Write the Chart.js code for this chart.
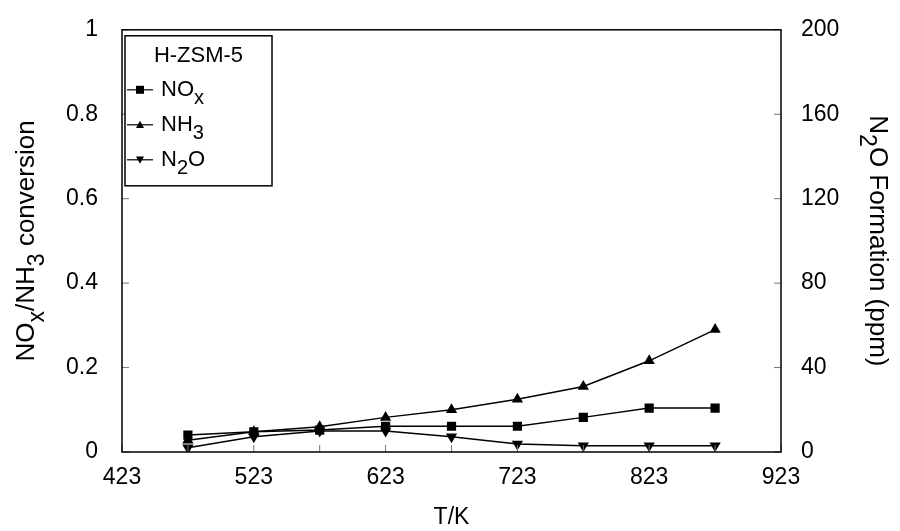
<!DOCTYPE html>
<html>
<head>
<meta charset="utf-8">
<script src="https://cdn.jsdelivr.net/npm/chart.js@4.4.1/dist/chart.umd.min.js"></script>
<style>
    body { margin: 0; background: #fff; }
    #wrap { width: 900px; height: 531px; }
</style>
</head>
<body>
<div id="wrap"><canvas id="chart1" width="900" height="531"></canvas></div>
<script>
const temps = [473, 523, 573, 623, 673, 723, 773, 823, 873];
const noxConv = [0.04, 0.048, 0.052, 0.061, 0.061, 0.061, 0.082, 0.104, 0.104];
const nh3Conv = [0.028, 0.048, 0.06, 0.082, 0.10, 0.125, 0.155, 0.216, 0.29];
const n2oPpm = [2, 7.2, 10, 10, 7.2, 3.8, 3, 3, 3];

const xTicks = [423, 523, 623, 723, 823, 923];
const xMinorTicks = [473, 573, 673, 773, 873];
const leftTicks = [0, 0.2, 0.4, 0.6, 0.8, 1];
const rightTicks = [0, 40, 80, 120, 160, 200];

// text pieces, sub = subscript
const legendTitle = "H-ZSM-5";
const legendLabels = [
    [{ t: "NO" }, { t: "x", sub: true }],
    [{ t: "NH" }, { t: "3", sub: true }],
    [{ t: "N" }, { t: "2", sub: true }, { t: "O" }]
];
const leftTitle = [{ t: "NO" }, { t: "x", sub: true }, { t: "/NH" }, { t: "3", sub: true }, { t: " conversion" }];
const rightTitle = [{ t: "N" }, { t: "2", sub: true }, { t: "O Formation (ppm)" }];
const xTitle = [{ t: "T/K" }];

const FONT = '"Liberation Sans", Arial, sans-serif';

function drawRich(ctx, segs, x, y, size, align) {
    const mainFont = size + "px " + FONT;
    const subFont = Math.round(size * 0.9) + "px " + FONT;
    let total = 0;
    for (let s of segs) {
        ctx.font = s.sub ? subFont : mainFont;
        total += ctx.measureText(s.t).width;
    }
    let cx = align === "center" ? x - total / 2 : x;
    ctx.textAlign = "left";
    ctx.textBaseline = "middle";
    for (let s of segs) {
        ctx.font = s.sub ? subFont : mainFont;
        ctx.fillText(s.t, cx, y + (s.sub ? size * 0.4 : 0));
        cx += ctx.measureText(s.t).width;
    }
}

function marker(ctx, style, x, y, r) {
    ctx.beginPath();
    if (style === "rect") {
        ctx.rect(x - r, y - r, 2 * r, 2 * r);
    } else if (style === "up") {
        ctx.moveTo(x, y - r);
        ctx.lineTo(x + r, y + r * 0.8);
        ctx.lineTo(x - r, y + r * 0.8);
    } else {
        ctx.moveTo(x, y + r);
        ctx.lineTo(x + r, y - r * 0.8);
        ctx.lineTo(x - r, y - r * 0.8);
    }
    ctx.closePath();
    ctx.fill();
}

const extras = {
    id: "extras",
    afterDraw(chart) {
        const ctx = chart.ctx;
        const a = chart.chartArea;
        const sx = chart.scales.x, sy = chart.scales.y, sy1 = chart.scales.y1;
        ctx.save();
        ctx.fillStyle = "#000";

        // inner tick marks
        ctx.lineWidth = 1;
        ctx.strokeStyle = "#777";
        ctx.beginPath();
        for (let v of xTicks.concat(xMinorTicks)) {
            const px = sx.getPixelForValue(v);
            ctx.moveTo(px, a.bottom);
            ctx.lineTo(px, a.bottom - 7);
        }
        for (let v of leftTicks) {
            const py = sy.getPixelForValue(v);
            ctx.moveTo(a.left, py);
            ctx.lineTo(a.left + 7, py);
        }
        for (let v of rightTicks) {
            const py = sy1.getPixelForValue(v);
            ctx.moveTo(a.right, py);
            ctx.lineTo(a.right - 7, py);
        }
        ctx.stroke();

        // plot frame
        ctx.strokeStyle = "#000";
        ctx.lineWidth = 1.5;
        ctx.strokeRect(a.left, a.top, a.right - a.left, a.bottom - a.top);

        // legend
        const lx = a.left + 3, ly = a.top + 6, lw = 147, lh = 150;
        ctx.fillStyle = "#fff";
        ctx.fillRect(lx, ly, lw, lh);
        ctx.strokeRect(lx, ly, lw, lh);
        ctx.fillStyle = "#000";
        drawRich(ctx, [{ t: legendTitle }], lx + lw / 2, ly + 20, 22, "center");
        const styles = ["rect", "up", "down"];
        legendLabels.forEach((segs, i) => {
            const yy = ly + 54 + i * 35;
            ctx.lineWidth = 1.2;
            ctx.beginPath();
            ctx.moveTo(lx + 2, yy);
            ctx.lineTo(lx + 28, yy);
            ctx.stroke();
            marker(ctx, styles[i], lx + 15, yy, 4);
            drawRich(ctx, segs, lx + 36, yy, 22, "left");
        });

        // axis titles
        ctx.save();
        ctx.translate(27, (a.top + a.bottom) / 2);
        ctx.rotate(-Math.PI / 2);
        drawRich(ctx, leftTitle, 0, 0, 26, "center");
        ctx.restore();

        ctx.save();
        ctx.translate(877, (a.top + a.bottom) / 2);
        ctx.rotate(Math.PI / 2);
        drawRich(ctx, rightTitle, 0, 0, 26, "center");
        ctx.restore();

        drawRich(ctx, xTitle, (a.left + a.right) / 2, 518, 23, "center");
        ctx.restore();
    }
};

const tickFont = { family: FONT, size: 23 };

new Chart(document.getElementById("chart1").getContext("2d"), {
    type: "line",
    data: {
        datasets: [
            {
                label: "NOx",
                data: temps.map((t, i) => ({ x: t, y: noxConv[i] })),
                yAxisID: "y",
                pointStyle: "rect",
                pointRadius: 6.5
            },
            {
                label: "NH3",
                data: temps.map((t, i) => ({ x: t, y: nh3Conv[i] })),
                yAxisID: "y",
                pointStyle: "triangle",
                pointRadius: 6.5
            },
            {
                label: "N2O",
                data: temps.map((t, i) => ({ x: t, y: n2oPpm[i] })),
                yAxisID: "y1",
                pointStyle: "triangle",
                pointRotation: 180,
                pointRadius: 6.5
            }
        ].map(d => Object.assign(d, {
            borderColor: "#000",
            backgroundColor: "#000",
            pointBackgroundColor: "#000",
            pointBorderColor: "#000",
            borderWidth: 1.5,
            pointBorderWidth: 0,
            tension: 0,
            fill: false
        }))
    },
    options: {
        responsive: false,
        animation: false,
        layout: { padding: { top: 27, left: 0, right: 0, bottom: 0 } },
        plugins: { legend: { display: false }, tooltip: { enabled: false } },
        scales: {
            x: {
                type: "linear",
                min: 423,
                max: 923,
                afterBuildTicks: s => { s.ticks = xTicks.map(v => ({ value: v })); },
                afterFit: s => { s.height = 79; },
                grid: { display: false },
                border: { display: false },
                ticks: { color: "#000", font: tickFont, padding: 4, maxRotation: 0, autoSkip: false }
            },
            y: {
                position: "left",
                min: 0,
                max: 1,
                afterBuildTicks: s => { s.ticks = leftTicks.map(v => ({ value: v })); },
                afterFit: s => { s.width = 122; },
                grid: { display: false },
                border: { display: false },
                ticks: { color: "#000", font: tickFont, padding: 16, callback: v => String(v) }
            },
            y1: {
                position: "right",
                min: 0,
                max: 200,
                afterBuildTicks: s => { s.ticks = rightTicks.map(v => ({ value: v })); },
                afterFit: s => { s.width = 119; },
                grid: { display: false },
                border: { display: false },
                ticks: { color: "#000", font: tickFont, padding: 12, callback: v => String(v) }
            }
        }
    },
    plugins: [extras]
});
</script>
</body>
</html>
